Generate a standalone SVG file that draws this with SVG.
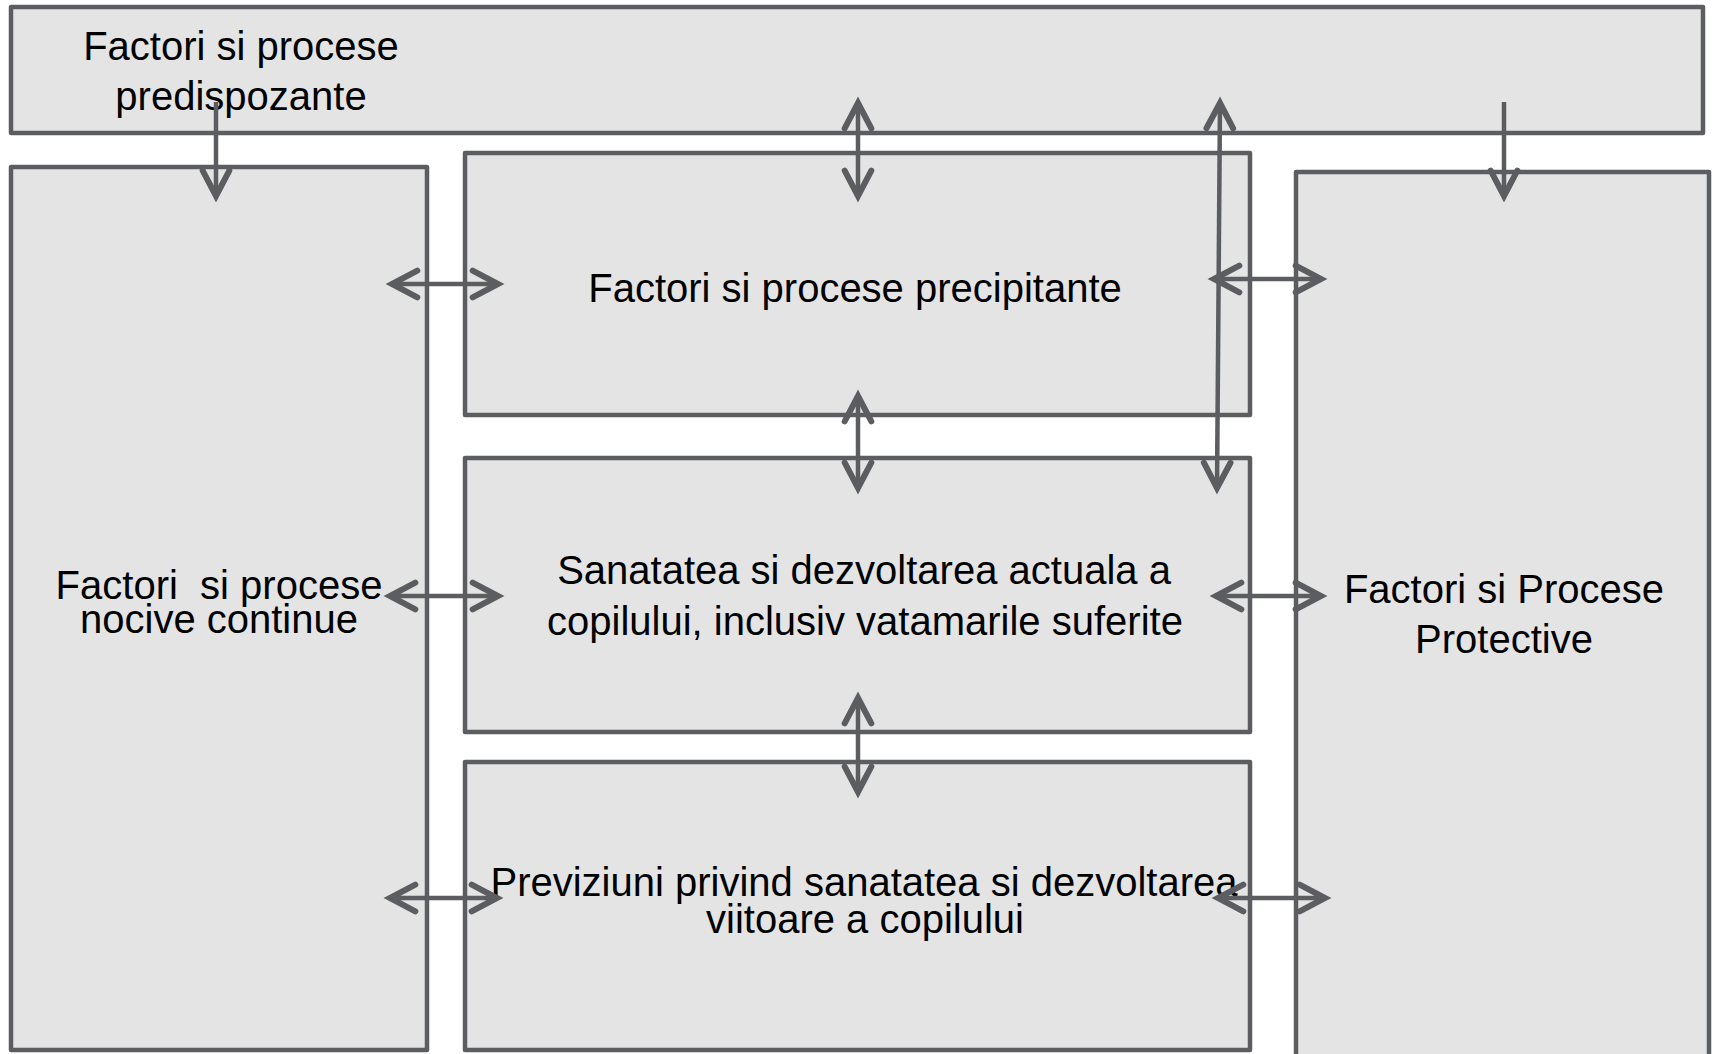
<svg xmlns="http://www.w3.org/2000/svg" width="1716" height="1054" viewBox="0 0 1716 1054">
<style>
.box{fill:#e3e4e3;stroke:#5c5d61;stroke-width:4.5;stroke-linejoin:round}
.lbl{font-family:"Liberation Sans",Arial,sans-serif;font-size:40px;fill:#000;text-anchor:middle}
.con{fill:none;stroke:#5c5d61;stroke-width:4.5}
</style>
<defs>
<marker id="ah" markerUnits="userSpaceOnUse" markerWidth="40" markerHeight="40" viewBox="-25 -15 30 30" refX="0" refY="0" orient="auto-start-reverse" overflow="visible">
<path d="M-19,-10 L0,0 L-19,10" fill="none" stroke="#5c5d61" stroke-width="4.5" stroke-linecap="round" stroke-linejoin="miter"/>
</marker>
</defs>
<rect width="1716" height="1054" fill="#fff"/>
<g id="node-predispozante">
<rect class="box" x="11" y="7" width="1692" height="126"/>
<text class="lbl"><tspan x="241" y="60">Factori si procese</tspan><tspan x="241" y="110">predispozante</tspan></text>
</g>
<g id="node-nocive">
<rect class="box" x="11" y="167" width="416" height="883"/>
<text class="lbl" style="white-space:pre"><tspan x="219" y="599">Factori  si procese</tspan><tspan x="219" y="633">nocive continue</tspan></text>
</g>
<g id="node-precipitante">
<rect class="box" x="465" y="153" width="785" height="262"/>
<text class="lbl" x="855" y="302">Factori si procese precipitante</text>
</g>
<g id="node-sanatatea">
<rect class="box" x="465" y="458" width="785" height="274"/>
<text class="lbl"><tspan x="864" y="584">Sanatatea si dezvoltarea actuala a</tspan><tspan x="865" y="635">copilului, inclusiv vatamarile suferite</tspan></text>
</g>
<g id="node-previziuni">
<rect class="box" x="465" y="762" width="785" height="288"/>
<text class="lbl"><tspan x="864" y="896">Previziuni privind sanatatea si dezvoltarea</tspan><tspan x="865" y="933">viitoare a copilului</tspan></text>
</g>
<g id="node-protective">
<rect class="box" x="1296" y="172" width="413" height="890"/>
<text class="lbl"><tspan x="1504" y="603">Factori si Procese</tspan><tspan x="1504" y="653">Protective</tspan></text>
</g>
<g id="connectors">
<line class="con" x1="216" y1="102" x2="216" y2="196" marker-end="url(#ah)"/>
<line class="con" x1="858" y1="103" x2="858" y2="196" marker-start="url(#ah)" marker-end="url(#ah)"/>
<line class="con" x1="1220" y1="103" x2="1217" y2="488" marker-start="url(#ah)" marker-end="url(#ah)"/>
<line class="con" x1="1504" y1="102" x2="1504" y2="196" marker-end="url(#ah)"/>
<line class="con" x1="392" y1="284" x2="498" y2="284" marker-start="url(#ah)" marker-end="url(#ah)"/>
<line class="con" x1="1214" y1="279" x2="1321" y2="279" marker-start="url(#ah)" marker-end="url(#ah)"/>
<line class="con" x1="858" y1="396" x2="858" y2="488" marker-start="url(#ah)" marker-end="url(#ah)"/>
<line class="con" x1="390" y1="596" x2="498" y2="596" marker-start="url(#ah)" marker-end="url(#ah)"/>
<line class="con" x1="1216" y1="596" x2="1321" y2="596" marker-start="url(#ah)" marker-end="url(#ah)"/>
<line class="con" x1="858" y1="698" x2="858" y2="792" marker-start="url(#ah)" marker-end="url(#ah)"/>
<line class="con" x1="390" y1="898" x2="497" y2="898" marker-start="url(#ah)" marker-end="url(#ah)"/>
<line class="con" x1="1218" y1="898" x2="1325" y2="898" marker-start="url(#ah)" marker-end="url(#ah)"/>
</g>
</svg>
